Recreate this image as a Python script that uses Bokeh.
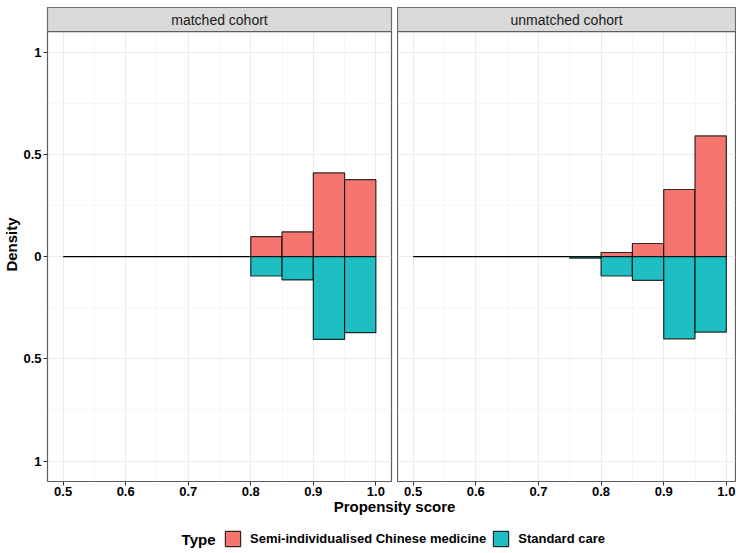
from bokeh.plotting import figure
from bokeh.models import (Range1d, FixedTicker, BoxAnnotation, Label, Legend, LegendItem,
                          CustomJSTickFormatter, NumeralTickFormatter)
from bokeh.layouts import column, row
from bokeh.embed import file_html
from bokeh.resources import INLINE

# ---------------- data ----------------
panel_titles = ["matched cohort", "unmatched cohort"]
type_names = ["Semi-individualised Chinese medicine", "Standard care"]
type_colors = ["#F5766E", "#1EBEC2"]

matched_bin_lo = [0.80, 0.85, 0.90, 0.95]
matched_bin_hi = [0.85, 0.90, 0.95, 1.00]
matched_scm = [0.098, 0.121, 0.409, 0.376]
matched_sc = [0.095, 0.114, 0.405, 0.372]

unmatched_bin_lo = [0.75, 0.80, 0.85, 0.90, 0.95]
unmatched_bin_hi = [0.80, 0.85, 0.90, 0.95, 1.00]
unmatched_scm = [0.0, 0.020, 0.064, 0.328, 0.590]
unmatched_sc = [0.008, 0.095, 0.116, 0.402, 0.369]

baseline_x = [0.5, 1.0]
baseline_y = [0.0, 0.0]

x_ticks = [0.5, 0.6, 0.7, 0.8, 0.9, 1.0]
x_minor = [0.55, 0.65, 0.75, 0.85, 0.95]
y_ticks = [-1.0, -0.5, 0.0, 0.5, 1.0]
y_minor = [-0.75, -0.25, 0.25, 0.75]

# ---------------- style ----------------
FONT = "Liberation Sans"
BORDER = "#5E5E5E"
STRIP_FILL = "#D9D9D9"
TOP_PAD = 7
FRAME_H = 471
AXIS_H = 20
PANEL_H = TOP_PAD + FRAME_H + AXIS_H
STRIP_PX = 24
Y_LIM = 1.1
strip_units = STRIP_PX * (2 * Y_LIM) / (FRAME_H - STRIP_PX)
y_top = Y_LIM + strip_units
X_START = 0.475


def make_panel(title, lo, hi, scm, sc, x_end, show_y, width, mbl, mbr):
    p = figure(width=width, height=PANEL_H,
               x_range=Range1d(X_START, x_end), y_range=Range1d(-Y_LIM, y_top),
               output_backend="svg", toolbar_location=None, title=None,
               min_border_left=mbl, min_border_right=mbr,
               min_border_top=TOP_PAD, min_border_bottom=0,
               y_axis_location="left" if show_y else None)
    p.background_fill_color = "white"
    p.border_fill_color = "white"
    p.outline_line_color = BORDER
    p.outline_line_width = 1.2

    # grids
    p.xgrid.ticker = FixedTicker(ticks=x_ticks, minor_ticks=x_minor)
    p.ygrid.ticker = FixedTicker(ticks=y_ticks, minor_ticks=y_minor)
    for g in (p.xgrid, p.ygrid):
        g.grid_line_color = "#EBEBEB"
        g.grid_line_width = 1.1
        g.minor_grid_line_color = "#F3F3F3"
        g.minor_grid_line_width = 0.7

    # x axis
    xa = p.xaxis[0]
    xa.ticker = FixedTicker(ticks=x_ticks, minor_ticks=x_minor)
    xa.formatter = NumeralTickFormatter(format="0.0")
    xa.axis_line_color = None
    xa.major_tick_line_color = "#333333"
    xa.major_tick_out = 4
    xa.major_tick_in = 0
    xa.minor_tick_line_color = None
    xa.major_label_standoff = 1
    xa.major_label_text_font = FONT
    xa.major_label_text_font_style = "bold"
    xa.major_label_text_font_size = "13px"
    xa.major_label_text_color = "black"

    if show_y:
        ya = p.yaxis[0]
        ya.ticker = FixedTicker(ticks=y_ticks, minor_ticks=y_minor)
        ya.formatter = CustomJSTickFormatter(code="return Math.abs(tick).toString();")
        ya.axis_line_color = None
        ya.major_tick_line_color = "#333333"
        ya.major_tick_out = 4
        ya.major_tick_in = 0
        ya.minor_tick_line_color = None
        ya.major_label_standoff = 2
        ya.major_label_text_font = FONT
        ya.major_label_text_font_style = "bold"
        ya.major_label_text_font_size = "13px"
        ya.major_label_text_color = "black"
        ya.axis_label = "Density"
        ya.axis_label_standoff = 0
        ya.axis_label_text_font = FONT
        ya.axis_label_text_font_style = "bold"
        ya.axis_label_text_font_size = "15px"
        ya.axis_label_text_color = "black"

    # baseline
    p.line(baseline_x, baseline_y, line_color="black", line_width=1.3)

    # mirrored histogram bars
    zeros = [0.0] * len(lo)
    p.quad(left=lo, right=hi, bottom=zeros, top=scm,
           fill_color=type_colors[0], line_color="black", line_alpha=0.8, line_width=1.2)
    p.quad(left=lo, right=hi, bottom=[-v for v in sc], top=zeros,
           fill_color=type_colors[1], line_color="black", line_alpha=0.8, line_width=1.2)

    # facet strip
    strip = BoxAnnotation(bottom=Y_LIM, fill_color=STRIP_FILL, fill_alpha=1.0,
                          line_color=BORDER, line_width=1.2, line_alpha=1.0)
    p.add_layout(strip)
    p.add_layout(Label(x=(X_START + x_end) / 2, y=Y_LIM + strip_units / 2, text=title,
                       text_align="center", text_baseline="middle",
                       text_font=FONT, text_font_size="14px", text_color="#1A1A1A"))
    return p


left = make_panel(panel_titles[0], matched_bin_lo, matched_bin_hi, matched_scm, matched_sc,
                  1.025, True, 397, 47, 6)
right = make_panel(panel_titles[1], unmatched_bin_lo, unmatched_bin_hi, unmatched_scm, unmatched_sc,
                   1.0146, False, 339, 0, 1)

# ---------------- bottom: axis title + legend ----------------
BOTTOM_H = 553 - PANEL_H
# legend swatches reuse the matched-cohort bars, kept out of this strip's visible range
b = figure(width=736, height=BOTTOM_H, x_range=Range1d(0, 1), y_range=Range1d(5, 6),
           output_backend="svg", toolbar_location=None, title=None,
           x_axis_location=None, y_axis_location=None,
           min_border_left=47, min_border_right=1, min_border_top=0, min_border_bottom=0)
b.outline_line_color = None
b.grid.visible = False
b.background_fill_color = "white"
b.border_fill_color = "white"

zeros_m = [0.0] * len(matched_bin_lo)
r_scm = b.quad(left=matched_bin_lo, right=matched_bin_hi, bottom=zeros_m, top=matched_scm,
               fill_color=type_colors[0], line_color="black", line_alpha=0.8, line_width=1.2)
r_sc = b.quad(left=matched_bin_lo, right=matched_bin_hi, bottom=[-v for v in matched_sc],
              top=zeros_m, fill_color=type_colors[1], line_color="black", line_alpha=0.8,
              line_width=1.2)

LEG_X = 176
LEG_Y = 5
legend = Legend(items=[LegendItem(label=type_names[0], renderers=[r_scm]),
                       LegendItem(label=type_names[1], renderers=[r_sc])],
                location=(LEG_X, LEG_Y), orientation="horizontal",
                glyph_width=19, glyph_height=19, label_height=19, label_standoff=8,
                spacing=5, padding=0, margin=0, border_line_color=None,
                background_fill_alpha=0.0,
                label_text_font=FONT, label_text_font_style="bold",
                label_text_font_size="13px", label_text_color="black")
b.add_layout(legend)

b.add_layout(Label(x=LEG_X - 8, y=LEG_Y + 9.5, x_units="screen", y_units="screen", text="Type",
                   text_align="right", text_baseline="middle",
                   text_font=FONT, text_font_style="bold", text_font_size="15px",
                   text_color="black"))
b.add_layout(Label(x=347, y=BOTTOM_H - 8, x_units="screen", y_units="screen",
                   text="Propensity score", text_align="center", text_baseline="middle",
                   text_font=FONT, text_font_style="bold", text_font_size="15px",
                   text_color="black"))

layout = column(row(left, right, spacing=0), b, spacing=0)
open("out.html", "w").write(file_html(layout, INLINE))
